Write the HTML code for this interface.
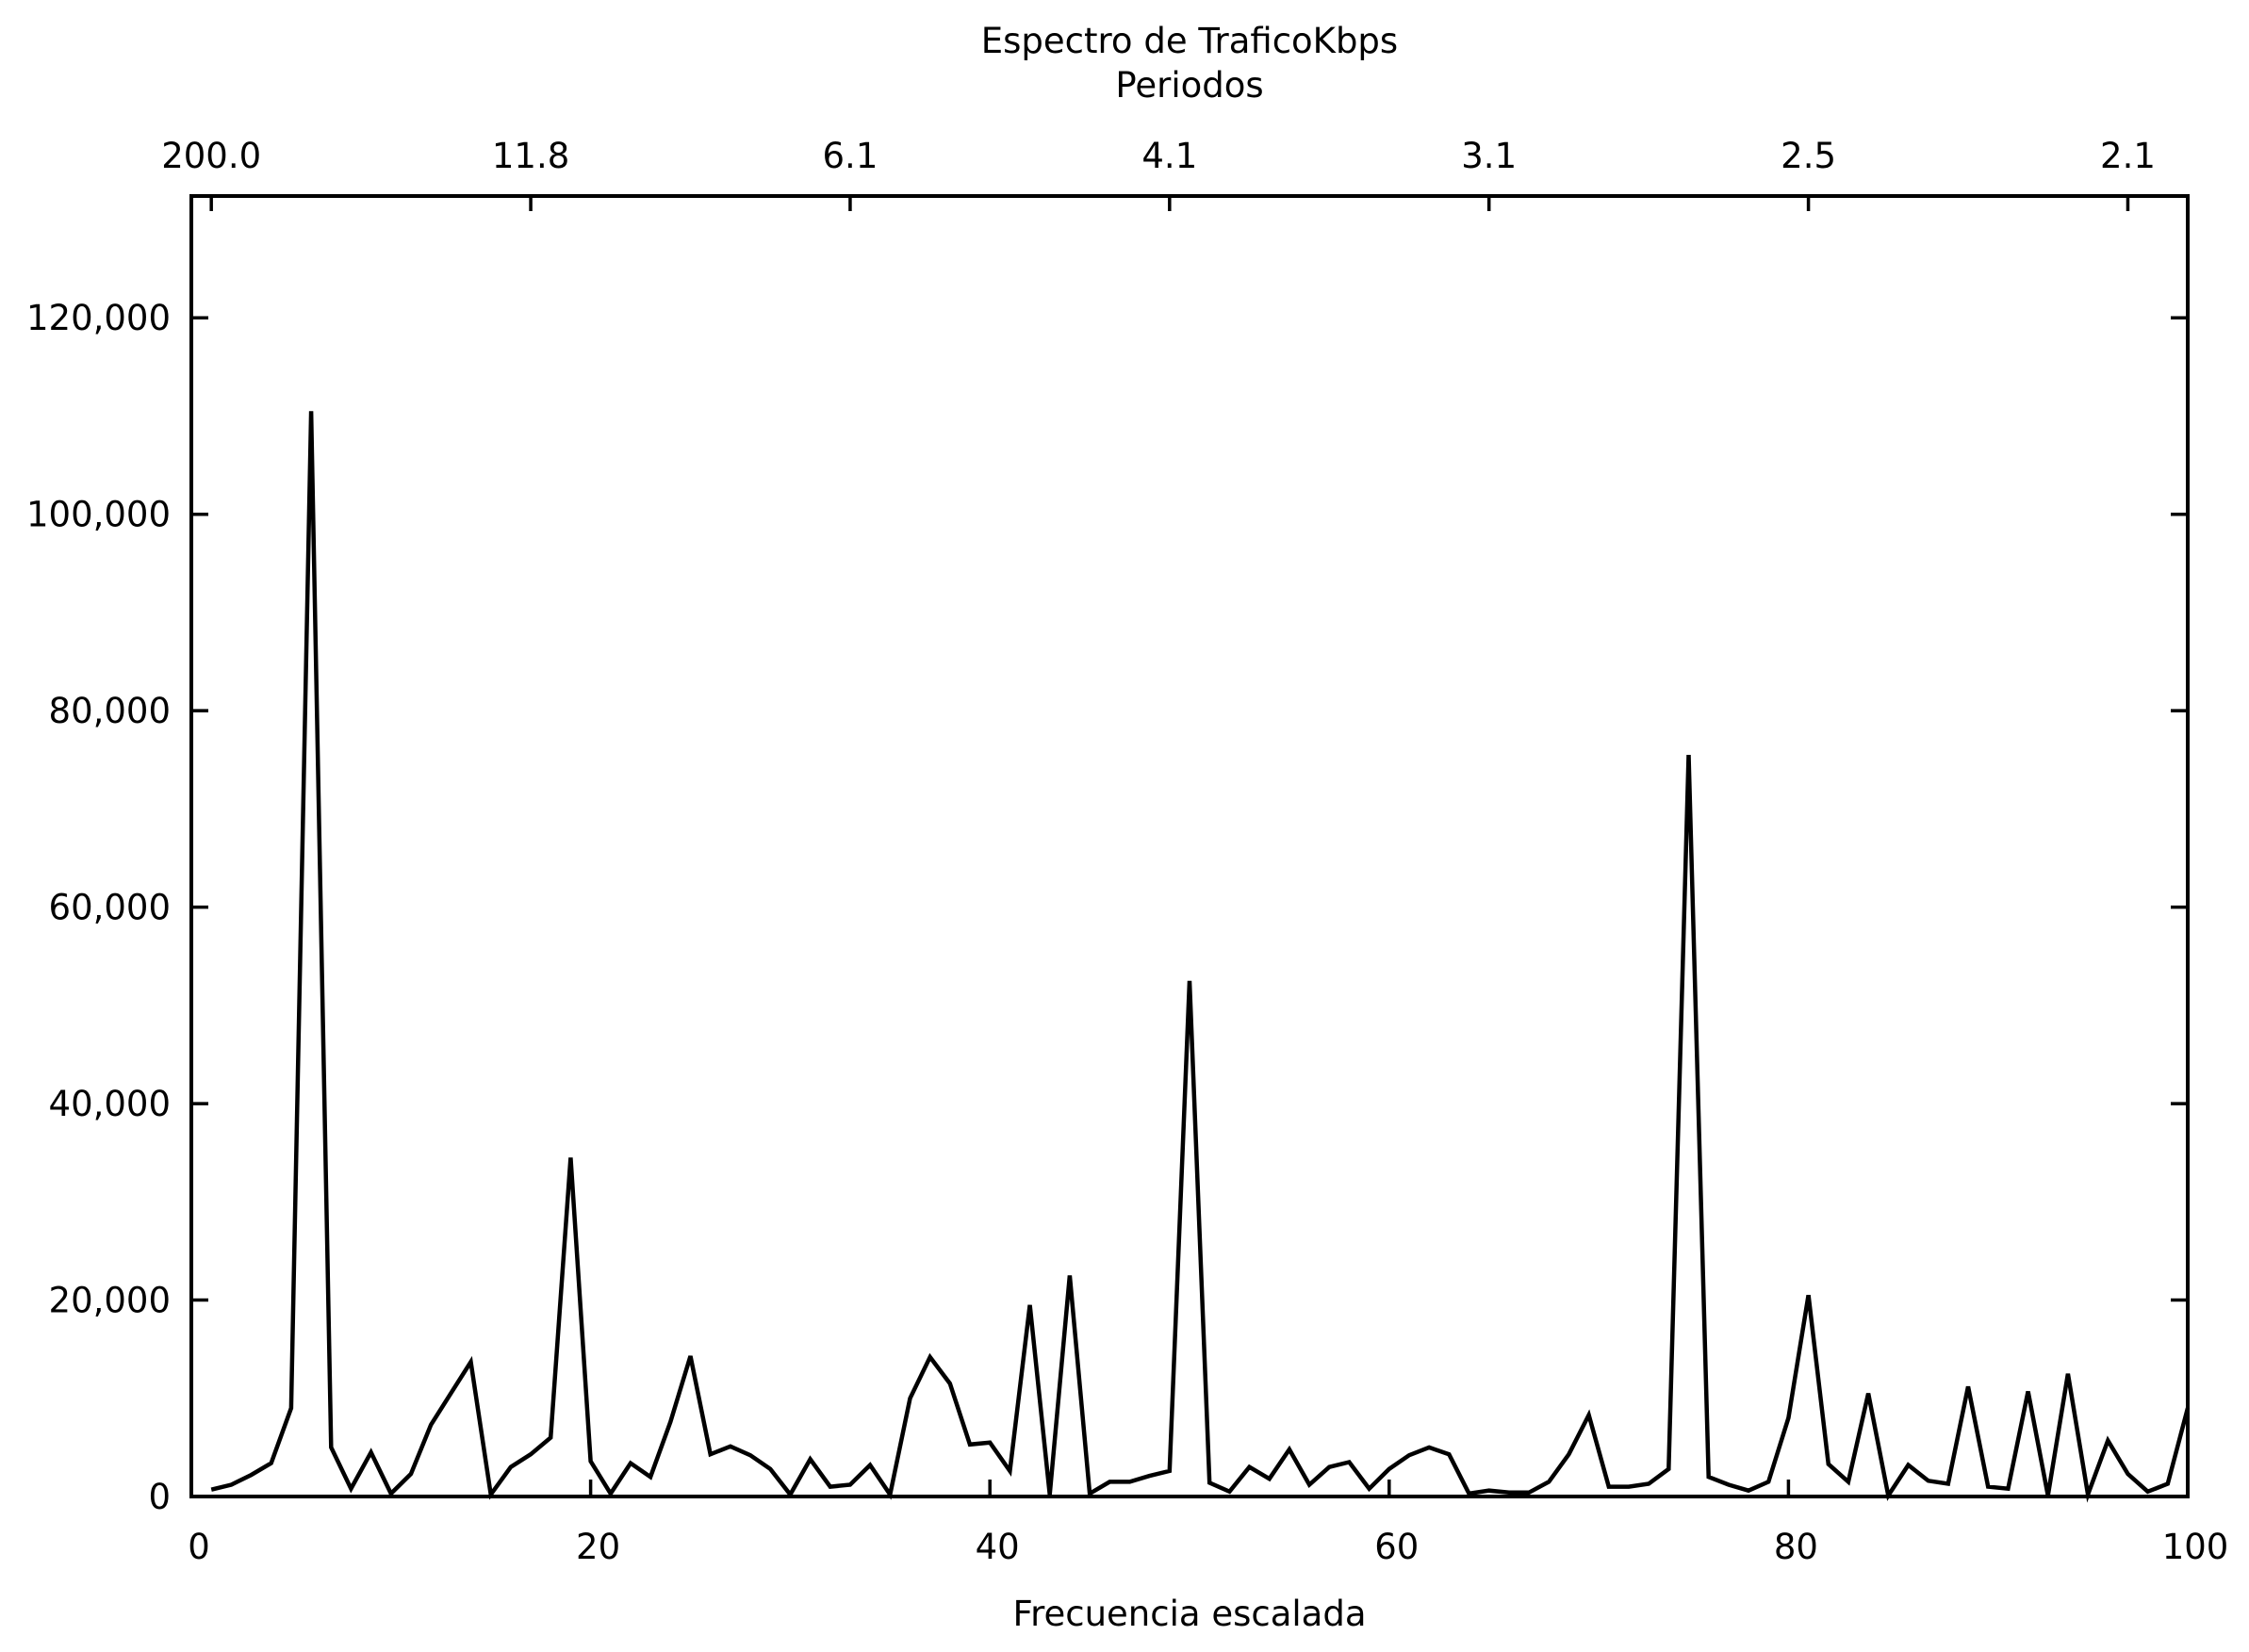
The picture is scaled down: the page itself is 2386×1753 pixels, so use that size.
<!DOCTYPE html>
<html><head><meta charset="utf-8">
<style>
html,body{margin:0;padding:0;background:#fff;}
svg{display:block;}
text{font-family:"DejaVu Sans","Liberation Sans",sans-serif;fill:#000;}
</style></head>
<body>
<svg id="chart" width="2386" height="1753" viewBox="0 0 2386 1753" xmlns="http://www.w3.org/2000/svg">
<text x="1262" y="56" font-size="37" text-anchor="middle">Espectro de TraficoKbps</text>
<text x="1262" y="103" font-size="37" text-anchor="middle">Periodos</text>
<text x="1262" y="1725" font-size="37" text-anchor="middle">Frecuencia escalada</text>
<g id="axes"></g>
<path id="line" fill="none" stroke="#000" stroke-width="4.5" stroke-linejoin="miter"/>
<rect x="203" y="208" width="2118" height="1380" fill="none" stroke="#000" stroke-width="4"/>
</svg>
<script>
const freqs = Array.from({length:100},(_,i)=>i+1);
const values = [0.7,1.2,2.2,3.4,9,110.5,5,0.8,4.5,0.3,2.3,7.3,10.5,13.7,0.2,3,4.3,6,34.5,3.6,0.3,3.4,2,7.6,14.3,4.3,5.1,4.2,2.8,0.2,3.8,1,1.2,3.2,0.2,10,14.2,11.5,5.3,5.5,2.6,19.5,0.2,22.5,0.3,1.5,1.5,2.1,2.6,52.5,1.4,0.5,3,1.8,4.8,1.2,3,3.5,0.8,2.8,4.2,5,4.3,0.3,0.6,0.4,0.4,1.5,4.3,8.3,1,1,1.3,2.8,75.5,2,1.2,0.6,1.5,8,20.5,3.3,1.5,10.5,0.1,3.2,1.6,1.3,11.2,1,0.8,10.7,0.1,12.5,0.2,5.7,2.3,0.5,1.3,9];
const yTicks = [0,20000,40000,60000,80000,100000,120000];
const yTickLabels = ["0","20,000","40,000","60,000","80,000","100,000","120,000"];
const xTicks = [0,20,40,60,80,100];
const topTicks = [1,17,33,49,65,81,97];
const topTickLabels = ["200.0","11.8","6.1","4.1","3.1","2.5","2.1"];

const L=203,R=2321,T=208,B=1588,YMAX=132400;
const xs = v => L + (v/100)*(R-L);
const ys = v => B - (v/YMAX)*(B-T);
const NS="http://www.w3.org/2000/svg";
const axes=document.getElementById('axes');
function mk(tag,attrs){const e=document.createElementNS(NS,tag);for(const k in attrs)e.setAttribute(k,attrs[k]);axes.appendChild(e);return e;}

yTicks.forEach((v,i)=>{
  const y=ys(v);
  const t1=mk('line',{x1:L,y1:y,x2:L+18,y2:y,stroke:'#000','stroke-width':3.5});
  
  
  const t2=mk('line',{x1:R-18,y1:y,x2:R,y2:y,stroke:'#000','stroke-width':3.5});
  
  
  const tx=mk('text',{x:181,y:y+13,'font-size':37,'text-anchor':'end'});
  tx.textContent=yTickLabels[i];
  
  
});
xTicks.forEach(v=>{
  const x=xs(v);
  const t=mk('line',{x1:x,y1:B-18,x2:x,y2:B,stroke:'#000','stroke-width':3.5});
  
  
  const tx=mk('text',{x:x+8,y:1654,'font-size':37,'text-anchor':'middle'});
  tx.textContent=String(v);
  
  
});
topTicks.forEach((v,i)=>{
  const x=xs(v);
  const t=mk('line',{x1:x,y1:T,x2:x,y2:T+16,stroke:'#000','stroke-width':3.5});
  
  
  const tx=mk('text',{x:x,y:178,'font-size':37,'text-anchor':'middle'});
  tx.textContent=topTickLabels[i];
  
  
});
let d='';
freqs.forEach((f,i)=>{d+=(i?'L':'M')+xs(f).toFixed(1)+','+ys(values[i]*1000).toFixed(1);});
document.getElementById('line').setAttribute('d',d);
</script>
</body></html>
